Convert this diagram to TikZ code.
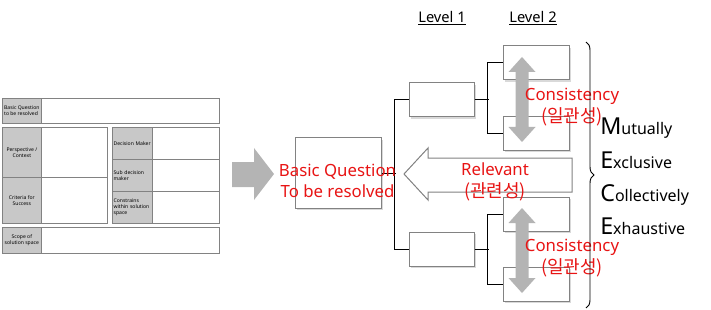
\documentclass[tikz,border=0pt]{standalone}
\usepackage{fontspec}
\setmainfont{Noto Sans}
\newfontfamily\kr{Noto Sans CJK KR}
\usetikzlibrary{shadows,decorations.pathreplacing}
\definecolor{cellgray}{RGB}{200,200,200}
\definecolor{linegray}{RGB}{130,130,130}
\definecolor{arrowgray}{RGB}{180,180,180}
\definecolor{textred}{RGB}{232,20,20}

\begin{document}
\begin{tikzpicture}[x=0.75pt, y=-0.75pt,
	box/.style={draw=linegray, fill=white, line width=0.75pt, inner sep=0pt,
		drop shadow={shadow xshift=1.2pt, shadow yshift=-1.2pt, opacity=0.3}},
	cell/.style={draw=linegray, fill=cellgray, line width=0.5pt, inner sep=1pt,
		anchor=north west, font=\fontsize{3.8}{4.6}\selectfont},
	sheet/.style={draw=linegray, line width=0.5pt},
	conn/.style={line width=0.75pt},
	redtext/.style={text=textred, align=center, font=\fontsize{12.6}{16}\selectfont},
	mece/.style={anchor=base west, inner sep=0pt, font=\fontsize{12}{14}\selectfont}]
	\useasboundingbox (0,0) rectangle (711,310);

	% question sheet
	\draw[sheet] (2,98) rectangle (219,123);
	\node[cell, minimum width=29.25pt, minimum height=18.75pt, align=left] (sq) at (2,98) {Basic Question\\to be resolved};
	\draw[sheet] (2,127) rectangle (107,223);
	\draw[sheet] (2,177) -- (107,177);
	\node[cell, minimum width=29.25pt, minimum height=37.5pt, align=center] (sp) at (2,127) {Perspective /\\Context};
	\node[cell, minimum width=29.25pt, minimum height=34.5pt, align=center] (sc) at (2,177) {Criteria for\\Success};
	\draw[sheet] (112,127) rectangle (219,223);
	\draw[sheet] (112,159) -- (219,159);
	\draw[sheet] (112,191) -- (219,191);
	\node[cell, text width=28pt, minimum height=24pt, align=left] (sd) at (112,127) {Decision Maker};
	\node[cell, text width=28pt, minimum height=24pt, align=left] (ss) at (112,159) {Sub decision\\maker};
	\node[cell, text width=28pt, minimum height=24pt, align=left] (sk) at (112,191) {Constrains\\within solution\\space};
	\draw[sheet] (2,227) rectangle (219,253);
	\node[cell, minimum width=29.25pt, minimum height=19.5pt, align=center] (sx) at (2,227) {Scope of\\solution space};

	% big arrow
	\fill[arrowgray] (232,162) -- (254,162) -- (254,148) -- (274,174) -- (254,200) -- (254,187) -- (232,187) -- cycle;

	% tree
	\node[box, minimum width=64.5pt, minimum height=52.5pt] (q) at (338,173) {};
	\node[box, minimum width=48.75pt, minimum height=25.5pt] (l1a) at (441.5,100) {};
	\node[box, minimum width=48.75pt, minimum height=25.5pt] (l1b) at (441.5,249.5) {};
	\node[box, minimum width=49.5pt, minimum height=25.5pt] (l2a) at (536,63) {};
	\node[box, minimum width=49.5pt, minimum height=25.5pt] (l2b) at (536,133.5) {};
	\node[box, minimum width=49.5pt, minimum height=25.5pt] (l2c) at (536,214) {};
	\node[box, minimum width=49.5pt, minimum height=25.5pt] (l2d) at (536,284.5) {};

	\draw[conn] (q.east) -- ++(14,0);
	\draw[conn] (l1a.west) -- ++(-14,0) |- (l1b.west);
	\draw[conn] (l1a.east) -- ++(14,0);
	\draw[conn] (l1b.east) -- ++(14,0);
	\draw[conn] (l2a.west) -- ++(-15,0) |- (l2b.west);
	\draw[conn] (l2c.west) -- ++(-15,0) |- (l2d.west);

	\node[font=\fontsize{11}{13}\selectfont] (lv1) at (442,18) {\underline{Level 1}};
	\node[font=\fontsize{11}{13}\selectfont] (lv2) at (533,18) {\underline{Level 2}};

	% relevant arrow
	\draw[linegray, fill=white, line width=0.75pt] (404,174) -- (428,148) -- (428,158) -- (572,158) -- (572,192) -- (428,192) -- (428,200) -- cycle;

	% consistency arrows
	\foreach \t/\b in {57/142, 208/293}
		\fill[arrowgray] (522,\t) -- (535.5,\t+15) -- (528.5,\t+15) -- (528.5,\b-15) -- (535.5,\b-15) -- (522,\b)
			-- (508.5,\b-15) -- (515.5,\b-15) -- (515.5,\t+15) -- (508.5,\t+15) -- cycle;

	\node[redtext] (qt) at (337.5,181) {Basic Question\\To be resolved};
	\node[redtext] (rel) at (495,182) {Relevant\\{\kr\fontsize{13.5}{16}\selectfont(관련성)}};
	\node[redtext] (con1) at (572,107) {Consistency\\{\kr\fontsize{13.5}{16}\selectfont(일관성)}};
	\node[redtext] (con2) at (572,258) {Consistency\\{\kr\fontsize{13.5}{16}\selectfont(일관성)}};

	% MECE
	\draw[decorate, decoration={brace, amplitude=6pt}, line width=0.7pt] (586,42) -- (586,308);
	\foreach \a/\b/\y [count=\i] in {M/utually/135, E/xclusive/168, C/ollectively/201, E/xhaustive/234}
		\node[mece] (mece\i) at (600,\y) {{\fontsize{17.5}{17}\selectfont\a}\b};
\end{tikzpicture}
\end{document}
